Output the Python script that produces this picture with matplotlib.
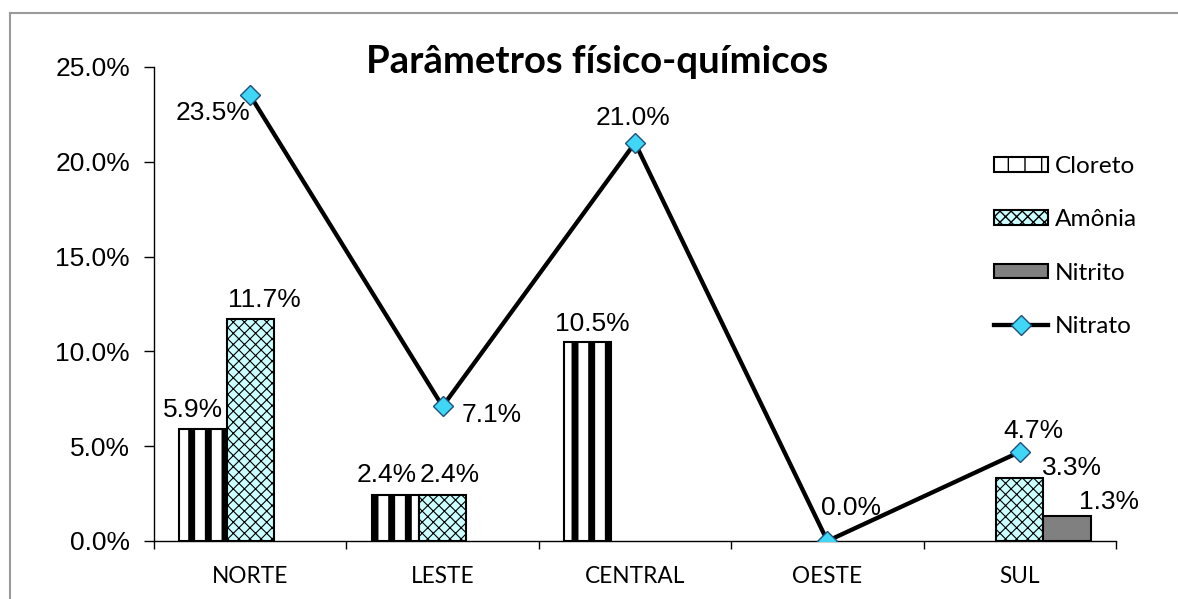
import numpy as np
import matplotlib
matplotlib.use("Agg")
import matplotlib.pyplot as plt
from matplotlib.lines import Line2D

# ---- data ----
categories = ["NORTE", "LESTE", "CENTRAL", "OESTE", "SUL"]
cloreto = [5.9, 2.4, 10.5, 0.0, 0.0]
amonia = [11.7, 2.4, 0.0, 0.0, 3.3]
nitrito = [0.0, 0.0, 0.0, 0.0, 1.3]
nitrato = [23.5, 7.1, 21.0, 0.0, 4.7]
yticks = [0, 5, 10, 15, 20, 25]
title = "Parâmetros físico-químicos"

# ---- style ----
W, H, DPI = 1178, 599, 100
fig = plt.figure(figsize=(W / DPI, H / DPI), dpi=DPI)
px = 72.0 / DPI  # points per pixel

# outer chart frame (only left and top edges visible; cropped at right/bottom)
fx0, fy0 = 9.5 / W, 1 - 12.5 / H
fig.lines.append(Line2D([fx0, fx0], [0, fy0], transform=fig.transFigure,
                        color="#9a9a9a", linewidth=1.5))
fig.lines.append(Line2D([fx0, 1], [fy0, fy0], transform=fig.transFigure,
                        color="#9a9a9a", linewidth=1.5))

ax = fig.add_axes([154 / W, (H - 541) / H, (1116 - 154) / W, (541 - 67) / H])
x = np.arange(len(categories))
w = 0.245

def shown(vals):
    v = np.asarray(vals, dtype=float)
    return np.where(v > 0, v, np.nan)

def mkbar(xs, vals, **kw):
    hlw = kw.pop("hlw", None)
    if hlw is not None:
        with plt.rc_context({"hatch.linewidth": hlw}):
            bars = ax.bar(xs, shown(vals), w, **kw)
            for b in bars:
                if hasattr(b, "set_hatch_linewidth"):
                    b.set_hatch_linewidth(hlw)
    else:
        bars = ax.bar(xs, shown(vals), w, **kw)
    return bars

b1 = mkbar(x - w, cloreto, color="white", edgecolor="black", hatch="|",
           linewidth=1.5, label="Cloreto", hlw=5.0, zorder=2)
b2 = mkbar(x, amonia, color="#CCFFFF", edgecolor="black", hatch="xxx",
           linewidth=1.5, label="Amônia", hlw=0.8, zorder=2)
b3 = mkbar(x + w, nitrito, color="#808080", edgecolor="black",
           linewidth=1.5, label="Nitrito", zorder=2)
ln, = ax.plot(x, nitrato, color="black", linewidth=3.1, marker="D",
              markersize=10, markerfacecolor="#3fd7f5",
              markeredgecolor="#1f4f7a", markeredgewidth=1.0,
              label="Nitrato", zorder=4)

ax.set_xlim(-0.5, len(categories) - 0.5)
ax.set_ylim(0, 25)
for s in ["top", "right"]:
    ax.spines[s].set_visible(False)
for s in ["left", "bottom"]:
    ax.spines[s].set_linewidth(1.0)
    ax.spines[s].set_color("black")

ax.set_yticks(yticks)
ax.set_yticklabels([f"{v:.1f}%" for v in yticks], fontfamily="Liberation Sans",
                   fontsize=19)
ax.tick_params(axis="y", direction="out", length=10 * px, width=1.0, pad=14 * px)

ax.set_xticks(x)
ax.set_xticklabels(categories, fontfamily="Lato", fontsize=16.3)
ax.set_xticks(np.arange(len(categories) + 1) - 0.5, minor=True)
ax.tick_params(axis="x", which="major", length=0, pad=25 * px)
ax.tick_params(axis="x", which="minor", direction="out", length=8 * px, width=1.0)

lab_kw = dict(fontfamily="Liberation Sans", fontsize=19, ha="center", va="center",
              textcoords="offset points", zorder=5)

def lbl(xv, yv, dx, dy):
    ax.annotate(f"{yv:.1f}%", (xv, yv), xytext=(dx * px, dy * px), **lab_kw)

# bar labels (offsets in pixels)
bar_offsets = {
    ("c", 0): (-10, 19), ("c", 1): (-9, 20), ("c", 2): (4, 18),
    ("a", 0): (14, 19), ("a", 1): (7, 20), ("a", 4): (52, 10),
    ("n", 4): (42, 14),
}
for key, series, xs in [("c", cloreto, x - w), ("a", amonia, x), ("n", nitrito, x + w)]:
    for i, v in enumerate(series):
        if v > 0:
            dx, dy = bar_offsets.get((key, i), (0, 18))
            lbl(xs[i], v, dx, dy)

line_offsets = [(-37, -18), (49, -9), (-2, 25), (24, 33), (14, 21)]
for i, v in enumerate(nitrato):
    dx, dy = line_offsets[i]
    lbl(x[i], v, dx, dy)

fig.text(597 / W, 1 - 62 / H, title, fontfamily="Lato", fontweight="bold",
         fontsize=27.5, ha="center", va="center")

leg = fig.legend(handles=[b1, b2, b3, ln], loc="upper left",
                 bbox_to_anchor=(994 / W, 1 - 156 / H), frameon=False,
                 prop={"family": "Lato", "size": 17.6},
                 handlelength=2.2, handleheight=0.55, handletextpad=0.3,
                 labelspacing=1.32, borderpad=0, borderaxespad=0)

fig.savefig("out.png", dpi=DPI)
